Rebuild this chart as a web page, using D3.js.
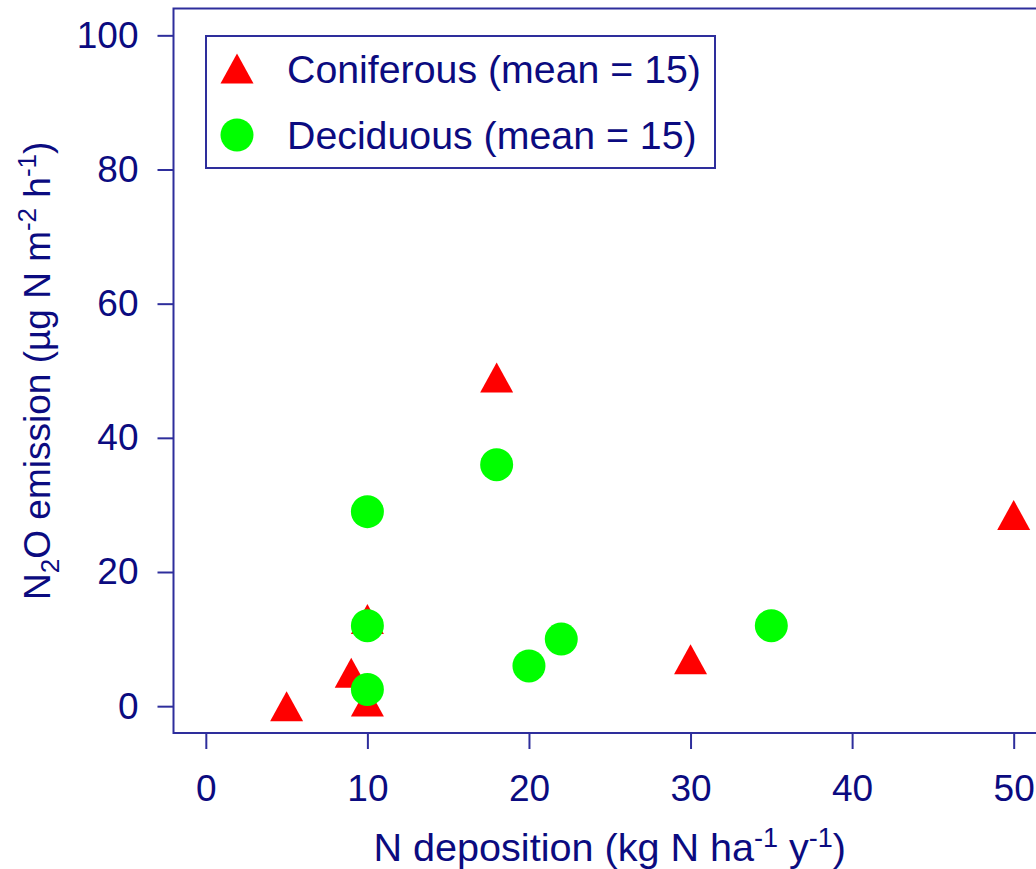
<!DOCTYPE html>
<html>
<head>
<meta charset="utf-8">
<script src="https://cdn.jsdelivr.net/npm/d3@7"></script>
<style>
  html, body { margin: 0; padding: 0; background: #ffffff; }
  svg { display: block; }
  text { font-family: "Liberation Sans", Arial, sans-serif; fill: #0b0b80; }
</style>
</head>
<body>
<svg id="chart" width="1036" height="869"></svg>
<script>
// N deposition (kg N ha-1 y-1) and N2O emission (µg N m-2 h-1) per site
const coniferousX = [5, 9, 10, 10, 18, 30, 50];
const coniferousY = [0, 5, 13, 0.7, 49, 7, 28.5];
const deciduousX  = [10, 10, 10, 18, 20, 22, 35];
const deciduousY  = [29, 12, 2.5, 36, 6, 10, 12];

const xTicks = [0, 10, 20, 30, 40, 50];
const yTicks = [0, 20, 40, 60, 80, 100];
const legendLabels = ["Coniferous (mean = 15)", "Deciduous (mean = 15)"];

const lineColor = "#2e2e9c";
const red = "#ff0000";
const green = "#00ff00";

const svg = d3.select("#chart");

// Plot region (axis limits padded 4% beyond the data range)
const plotL = 173.5, plotR = 1046, plotT = 8.5, plotB = 733;
const x = d3.scaleLinear().domain([-2, 52]).range([plotL, plotR]);
const y = d3.scaleLinear().domain([-4, 104]).range([plotB, plotT]);

// Frame
svg.append("rect")
  .attr("x", plotL).attr("y", plotT)
  .attr("width", plotR - plotL).attr("height", plotB - plotT)
  .attr("fill", "none").attr("stroke", lineColor).attr("stroke-width", 2);

// Axes
const yAxis = svg.append("g")
  .attr("transform", `translate(${plotL},0)`)
  .call(d3.axisLeft(y).tickValues(yTicks).tickSize(16).tickPadding(19).tickSizeOuter(0));
const xAxis = svg.append("g")
  .attr("transform", `translate(0,${plotB})`)
  .call(d3.axisBottom(x).tickValues(xTicks).tickSize(16).tickPadding(26).tickSizeOuter(0));

[xAxis, yAxis].forEach(g => {
  g.select(".domain").remove();
  g.selectAll(".tick line").attr("stroke", lineColor).attr("stroke-width", 2);
  g.selectAll(".tick text")
    .attr("fill", "#0b0b80")
    .style("font-family", '"Liberation Sans", Arial, sans-serif')
    .style("font-size", "37px");
});

// Marker shapes
const triW = 33, triH = 30, dotR = 16.5;
const triPath = `M0,${-triH / 2}L${triW / 2},${triH / 2}L${-triW / 2},${triH / 2}Z`;

const conifData = coniferousX.map((v, i) => ({ x: v, y: coniferousY[i] }));
const decidData = deciduousX.map((v, i) => ({ x: v, y: deciduousY[i] }));

svg.append("g").selectAll("path")
  .data(conifData).join("path")
  .attr("d", triPath)
  .attr("transform", d => `translate(${x(d.x)},${y(d.y)})`)
  .attr("fill", red);

svg.append("g").selectAll("circle")
  .data(decidData).join("circle")
  .attr("cx", d => x(d.x)).attr("cy", d => y(d.y))
  .attr("r", dotR)
  .attr("fill", green);

// Legend
const legend = svg.append("g");
legend.append("rect")
  .attr("x", 206).attr("y", 36).attr("width", 509).attr("height", 132)
  .attr("fill", "#ffffff").attr("stroke", lineColor).attr("stroke-width", 2);
legend.append("path")
  .attr("d", triPath)
  .attr("transform", "translate(237,68.5)")
  .attr("fill", red);
legend.append("circle")
  .attr("cx", 237).attr("cy", 135).attr("r", dotR)
  .attr("fill", green);
legend.selectAll("text.lab")
  .data(legendLabels).join("text")
  .attr("class", "lab")
  .attr("x", 287)
  .attr("y", (d, i) => i === 0 ? 83 : 149)
  .style("font-size", "39.3px")
  .text(d => d);

// Axis titles
const xt = svg.append("text")
  .attr("x", (plotL + plotR) / 2).attr("y", 861)
  .attr("text-anchor", "middle")
  .style("font-size", "39.6px");
xt.append("tspan").text("N deposition (kg N ha");
xt.append("tspan").attr("dy", -14).style("font-size", "27px").text("-1");
xt.append("tspan").attr("dy", 14).text(" y");
xt.append("tspan").attr("dy", -14).style("font-size", "27px").text("-1");
xt.append("tspan").attr("dy", 14).text(")");

const yt = svg.append("text")
  .attr("transform", `translate(50,${(plotT + plotB) / 2}) rotate(-90)`)
  .attr("text-anchor", "middle")
  .style("font-size", "37px");
yt.append("tspan").text("N");
yt.append("tspan").attr("dy", 9).style("font-size", "26px").text("2");
yt.append("tspan").attr("dy", -9).text("O emission (\u00b5g N m");
yt.append("tspan").attr("dy", -14).style("font-size", "26px").text("-2");
yt.append("tspan").attr("dy", 14).text(" h");
yt.append("tspan").attr("dy", -14).style("font-size", "26px").text("-1");
yt.append("tspan").attr("dy", 14).text(")");
</script>
</body>
</html>
